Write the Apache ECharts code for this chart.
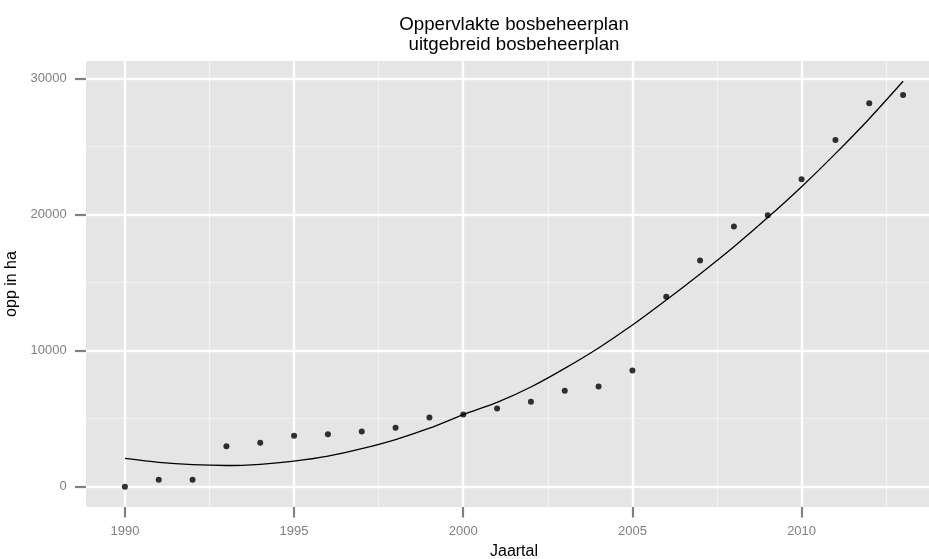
<!DOCTYPE html>
<html>
<head>
<meta charset="utf-8">
<title>Oppervlakte bosbeheerplan</title>
<script src="https://cdn.jsdelivr.net/npm/echarts@6/dist/echarts.min.js"></script>
<style>
  html, body { margin: 0; padding: 0; background: #ffffff; }
  #chart { width: 929px; height: 559px; }
</style>
</head>
<body>
<div id="chart"></div>
<script>
// Jaartallen en oppervlakte (ha) met uitgebreid bosbeheerplan
const years = [1990, 1991, 1992, 1993, 1994, 1995, 1996, 1997, 1998, 1999, 2000, 2001,
               2002, 2003, 2004, 2005, 2006, 2007, 2008, 2009, 2010, 2011, 2012, 2013];
const areaHa = [0, 520, 520, 2980, 3240, 3740, 3860, 4050, 4330, 5090, 5310, 5750,
                6240, 7050, 7370, 8550, 13960, 16630, 19120, 19950, 22600, 25480, 28180, 28790];
// Gladgestreken trendlijn (loess) per jaar
const trendHa = [2080, 1790, 1620, 1560, 1650, 1880, 2250, 2800, 3470, 4300, 5300, 6200,
                 7330, 8700, 10200, 11880, 13720, 15640, 17640, 19780, 22050, 24480, 27050, 29800];

// As-indeling
const xMajorTicks = [1990, 1995, 2000, 2005, 2010];
const xMinorTicks = [1992.5, 1997.5, 2002.5, 2007.5, 2012.5];
const yMajorTicks = [0, 10000, 20000, 30000];
const yMinorTicks = [5000, 15000, 25000];

const titleText = 'Oppervlakte bosbeheerplan\nuitgebreid bosbeheerplan';
const xTitle = 'Jaartal';
const yTitle = 'opp in ha';

// ggplot-achtige uitbreiding van 5% aan beide kanten
function expanded(values) {
  const lo = Math.min.apply(null, values);
  const hi = Math.max.apply(null, values);
  const pad = (hi - lo) * 0.05;
  return [lo - pad, hi + pad];
}
const xRange = expanded(years);
const yRange = expanded(areaHa.concat(trendHa));

const FONT = '"Liberation Sans", Arial, Helvetica, sans-serif';
const GREY_TEXT = '#7f7f7f';

function gridLines(axisKey, values, width, color) {
  return values.map(v => ({ [axisKey]: v, lineStyle: { color: color, width: width, type: 'solid' } }));
}

const chart = echarts.init(document.getElementById('chart'), null, { renderer: 'canvas' });

chart.setOption({
  animation: false,
  backgroundColor: '#ffffff',
  title: {
    text: titleText,
    left: 514,
    top: 15,
    padding: 0,
    textAlign: 'center',
    textStyle: {
      fontFamily: FONT,
      fontSize: 18.7,
      fontWeight: 'normal',
      color: '#000000',
      lineHeight: 20
    }
  },
  grid: {
    left: 86,
    top: 61,
    right: -13,
    bottom: 52,
    containLabel: false,
    outerBoundsMode: 'none',
    show: true,
    backgroundColor: '#e5e5e5',
    borderWidth: 0
  },
  xAxis: {
    type: 'value',
    min: xRange[0],
    max: xRange[1],
    name: xTitle,
    nameLocation: 'middle',
    nameGap: 36.5,
    nameTextStyle: { fontFamily: FONT, fontSize: 16, color: '#000000' },
    axisLine: { show: false, onZero: false },
    axisTick: {
      show: true,
      inside: false,
      length: 10.5,
      customValues: xMajorTicks,
      lineStyle: { color: GREY_TEXT, width: 2.2 }
    },
    axisLabel: {
      show: true,
      customValues: xMajorTicks,
      margin: 17.5,
      fontFamily: FONT,
      fontSize: 13,
      color: GREY_TEXT,
      formatter: v => String(v)
    },
    splitLine: { show: false },
    minorSplitLine: { show: false }
  },
  yAxis: {
    type: 'value',
    min: yRange[0],
    max: yRange[1],
    name: yTitle,
    nameLocation: 'middle',
    nameGap: 60,
    nameRotate: 90,
    nameTextStyle: { fontFamily: FONT, fontSize: 16, color: '#000000' },
    axisLine: { show: false, onZero: false },
    axisTick: {
      show: true,
      inside: false,
      length: 11,
      customValues: yMajorTicks,
      lineStyle: { color: GREY_TEXT, width: 2.2 }
    },
    axisLabel: {
      show: true,
      customValues: yMajorTicks,
      margin: 19.3,
      fontFamily: FONT,
      fontSize: 13,
      color: GREY_TEXT,
      formatter: v => String(v)
    },
    splitLine: { show: false },
    minorSplitLine: { show: false }
  },
  series: [
    {
      // rasterlijnen van het panel
      name: 'raster',
      type: 'line',
      data: [],
      silent: true,
      z: 1,
      markLine: {
        silent: true,
        z: 1,
        symbol: ['none', 'none'],
        label: { show: false },
        emphasis: { disabled: true },
        data: [].concat(
          gridLines('xAxis', xMinorTicks, 1.2, '#f2f2f2'),
          gridLines('yAxis', yMinorTicks, 1.2, '#f2f2f2'),
          gridLines('xAxis', xMajorTicks, 2.4, '#ffffff'),
          gridLines('yAxis', yMajorTicks, 2.4, '#ffffff')
        )
      }
    },
    {
      name: 'trend',
      type: 'line',
      z: 3,
      smooth: 0.3,
      showSymbol: false,
      data: years.map((y, i) => [y, trendHa[i]]),
      lineStyle: { color: '#000000', width: 1.3 },
      emphasis: { disabled: true }
    },
    {
      name: 'oppervlakte',
      type: 'scatter',
      z: 4,
      symbol: 'circle',
      symbolSize: 6,
      data: years.map((y, i) => [y, areaHa[i]]),
      itemStyle: { color: '#000000' },
      emphasis: { disabled: true }
    }
  ]
});
</script>
</body>
</html>
